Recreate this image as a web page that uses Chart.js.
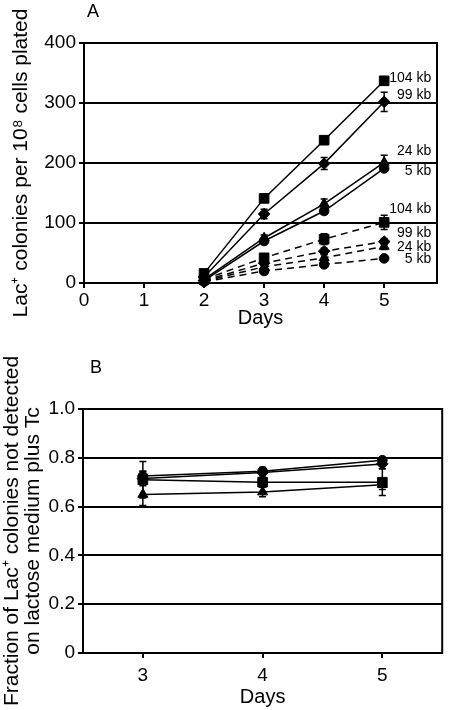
<!DOCTYPE html>
<html><head><meta charset="utf-8">
<script src="https://cdn.jsdelivr.net/npm/chart.js@4.4.1/dist/chart.umd.min.js"></script>
<style>
html,body{margin:0;padding:0;background:#fff;width:450px;height:710px;overflow:hidden;}
.wrap{position:absolute;left:0;width:450px;}
#wa{top:0;height:340px;}
#wb{top:340px;height:370px;}
.lbl{position:absolute;font-family:"Liberation Sans",Arial,sans-serif;font-size:18px;color:#000;line-height:20px;}
</style></head><body>
<div id="wa" class="wrap"><canvas id="ca" width="450" height="340"></canvas></div>
<div id="wb" class="wrap"><canvas id="cb" width="450" height="370"></canvas></div>
<div class="lbl" style="left:87px;top:1px">A</div>
<div class="lbl" style="left:90px;top:357px">B</div>
<script>
// ---------- Panel A data ----------
const daysA = [2, 3, 4, 5];
const solid104 = [16, 141, 238, 337];
const solid99  = [10, 115, 199, 302];
const solid24  = [6, 75, 132, 201];
const solid5   = [4, 70, 120, 191];
const dash104  = [6, 42, 73, 101];
const dash99   = [4, 33, 53, 69];
const dash24   = [3, 27, 42, 61];
const dash5    = [2, 20, 31, 41];
const errSolid104 = [0, 0, 0, 0];
const errSolid99  = [0, 8, 10, 16];
const errSolid24  = [0, 5, 8, 12];
const errSolid5   = [0, 3, 5, 4];
const errDash104  = [0, 5, 9, 12];
const errDash99   = [0, 3, 5, 5];
const errDash24   = [0, 3, 5, 5];
const errDash5    = [0, 2, 3, 3];
const xTicksA = [0, 1, 2, 3, 4, 5];
const yTicksA = [0, 100, 200, 300, 400];
const kbLabels  = ['104 kb', '99 kb', '24 kb', '5 kb', '104 kb', '99 kb', '24 kb', '5 kb'];
const kbLabelY  = [342, 313, 220, 187, 123, 83, 60, 40];

// ---------- Panel B data ----------
const daysB = [3, 4, 5];
const fracCircle   = [0.725, 0.745, 0.79];
const fracDiamond  = [0.715, 0.74, 0.775];
const fracSquare   = [0.71, 0.70, 0.70];
const fracTriangle = [0.65, 0.66, 0.69];
const errCircle   = [0.02, 0.015, 0.01];
const errDiamond  = [0.03, 0.02, 0.02];
const errSquare   = [0.075, 0.02, 0.055];
const errTriangle = [0.045, 0.02, 0.02];
const xTicksB = [3, 4, 5];
const yTicksB = [0, 0.2, 0.4, 0.6, 0.8, 1.0];

Chart.defaults.font.family = '"Liberation Sans", Arial, sans-serif';
Chart.defaults.color = '#000';

function pts(xs, ys){ return xs.map((x,i)=>({x:x, y:ys[i]})); }
function ds(xs, ys, errs, style, dashed){
  const r = {rect:6.8, rectRot:5.8, triangle:5.8, circle:4.8}[style];
  return {
    data: pts(xs, ys), errors: errs,
    borderColor:'#000', backgroundColor:'#000', borderWidth:1.5,
    borderDash: dashed ? [7,5] : [],
    pointStyle: style, pointRadius: r, pointBackgroundColor:'#000', pointBorderColor:'#000', pointBorderWidth:1,
    tension:0, clip:false, fill:false
  };
}

const errorBars = {
  id:'errbars',
  afterDatasetsDraw(chart){
    const ctx = chart.ctx, xs = chart.scales.x, ys = chart.scales.y;
    ctx.save(); ctx.strokeStyle = '#000'; ctx.lineWidth = 1.5; ctx.setLineDash([]);
    chart.data.datasets.forEach(d=>{
      if(!d.errors) return;
      d.data.forEach((p,i)=>{
        const e = d.errors[i]; if(!e) return;
        const x = xs.getPixelForValue(p.x), y1 = ys.getPixelForValue(p.y+e), y2 = ys.getPixelForValue(p.y-e);
        ctx.beginPath();
        ctx.moveTo(x,y1); ctx.lineTo(x,y2);
        ctx.moveTo(x-3.5,y1); ctx.lineTo(x+3.5,y1);
        ctx.moveTo(x-3.5,y2); ctx.lineTo(x+3.5,y2);
        ctx.stroke();
      });
    });
    ctx.restore();
  }
};
const frame = {
  id:'frame',
  afterDraw(chart){
    const a = chart.chartArea, ctx = chart.ctx;
    ctx.save(); ctx.strokeStyle='#000'; ctx.lineWidth=2; ctx.setLineDash([]);
    ctx.strokeRect(a.left, a.top, a.right-a.left, a.bottom-a.top);
    ctx.restore();
  }
};
const kbText = {
  id:'kbtext',
  afterDraw(chart){
    const ctx = chart.ctx, xs = chart.scales.x, ys = chart.scales.y;
    ctx.save(); ctx.fillStyle='#000'; ctx.font='14px "Liberation Sans", Arial, sans-serif';
    ctx.textAlign='right'; ctx.textBaseline='middle';
    const xr = xs.getPixelForValue(5) + 47;
    kbLabels.forEach((t,i)=>{ ctx.fillText(t, xr, ys.getPixelForValue(kbLabelY[i])); });
    ctx.restore();
  }
};

const fixTicks = arr => s => { s.ticks = arr.map(v=>({value:v})); };

new Chart(document.getElementById('ca'), {
  type:'line',
  data:{ datasets:[
    ds(daysA, dash104, errDash104, 'rect', true),
    ds(daysA, dash99, errDash99, 'rectRot', true),
    ds(daysA, dash24, errDash24, 'triangle', true),
    ds(daysA, dash5, errDash5, 'circle', true),
    ds(daysA, solid104, errSolid104, 'rect', false),
    ds(daysA, solid99, errSolid99, 'rectRot', false),
    ds(daysA, solid24, errSolid24, 'triangle', false),
    ds(daysA, solid5, errSolid5, 'circle', false)
  ]},
  options:{
    responsive:false, animation:false, devicePixelRatio:1,
    layout:{padding:{top:43, right:13, left:0, bottom:0}},
    plugins:{legend:{display:false}, tooltip:{enabled:false}},
    scales:{
      x:{ type:'linear', min:0, max:5.88,
        afterBuildTicks:fixTicks(xTicksA),
        afterFit(s){ s.height = 57; },
        ticks:{font:{size:19}, padding:1, color:'#000', maxRotation:0, autoSkip:false},
        grid:{drawOnChartArea:false, drawTicks:true, tickLength:5, color:'#000', lineWidth:2},
        border:{display:true, color:'#000', width:2},
        title:{display:true, text:'Days', font:{size:20}, padding:{bottom:10, top:0}, color:'#000'}
      },
      y:{ type:'linear', min:0, max:400,
        afterBuildTicks:fixTicks(yTicksA),
        afterFit(s){ s.width = 84; },
        ticks:{font:{size:19}, padding:3, color:'#000'},
        grid:{color:'#000', lineWidth:2, drawTicks:true, tickLength:5},
        border:{display:true, color:'#000', width:2},
        title:{display:true, text:'Lac\u207A colonies per 10\u2078 cells plated', font:{size:21, lineHeight:1.2}, padding:{top:9, bottom:0}, color:'#000'}
      }
    }
  },
  plugins:[frame, errorBars, kbText]
});

new Chart(document.getElementById('cb'), {
  type:'line',
  data:{ datasets:[
    ds(daysB, fracSquare, errSquare, 'rect', false),
    ds(daysB, fracTriangle, errTriangle, 'triangle', false),
    ds(daysB, fracDiamond, errDiamond, 'rectRot', false),
    ds(daysB, fracCircle, errCircle, 'circle', false)
  ]},
  options:{
    responsive:false, animation:false, devicePixelRatio:1,
    layout:{padding:{top:69, right:2, left:0, bottom:0}},
    plugins:{legend:{display:false}, tooltip:{enabled:false}},
    scales:{
      x:{ type:'linear', min:2.5, max:5.5,
        afterBuildTicks:fixTicks(xTicksB),
        afterFit(s){ s.height = 57; },
        ticks:{font:{size:19}, padding:6, color:'#000', maxRotation:0, autoSkip:false},
        grid:{drawOnChartArea:false, drawTicks:true, tickLength:5, color:'#000', lineWidth:2},
        border:{display:true, color:'#000', width:2},
        title:{display:true, text:'Days', font:{size:20}, padding:{bottom:1, top:0}, color:'#000'}
      },
      y:{ type:'linear', min:0, max:1,
        afterBuildTicks:fixTicks(yTicksB),
        afterFit(s){ s.width = 83; },
        ticks:{font:{size:19}, padding:3, color:'#000',
          callback:v => v === 0 ? '0' : Number(v).toFixed(1)},
        grid:{color:'#000', lineWidth:2, drawTicks:true, tickLength:5},
        border:{display:true, color:'#000', width:2},
        title:{display:true, text:['Fraction of Lac\u207A colonies not detected', 'on lactose medium plus Tc'],
          font:{size:21, lineHeight:1.0}, padding:{top:1.5, bottom:0}, color:'#000'}
      }
    }
  },
  plugins:[frame, errorBars]
});
</script>
</body></html>
